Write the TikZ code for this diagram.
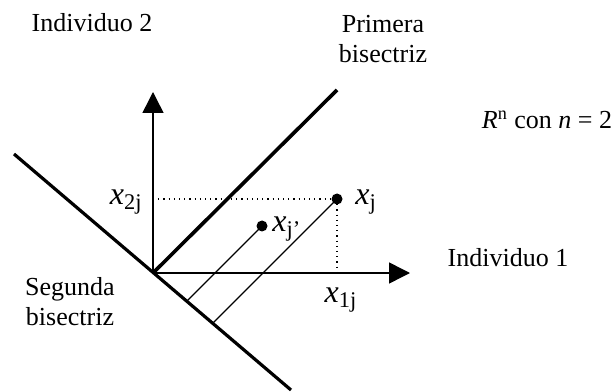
\documentclass[tikz,border=0pt]{standalone}
\usepackage{fontspec}
\setmainfont{Liberation Serif}
\usetikzlibrary{arrows.meta,calc}
\tikzset{
  lbl/.style={font=\fontsize{13}{15}\selectfont,inner sep=0pt,align=center},
  var/.style={font=\fontsize{16}{18}\selectfont,inner sep=0pt},
  axis/.style={line width=0.75pt,-{Triangle[length=10.5pt,width=10.5pt]}},
  bis/.style={line width=1.6pt},
  proj/.style={line width=0.6pt},
  guide/.style={line width=0.6pt,dotted},
  pt/.style={circle,fill=black,inner sep=0pt,minimum size=5.5pt},
}
\begin{document}
\begin{tikzpicture}[x=0.5pt,y=0.5pt]
  \useasboundingbox (0,0) rectangle (615,391);
  % axes
  \coordinate (o) at (153,118);
  \coordinate (ytip) at (153,299);
  \coordinate (xtip) at (410,118);
  \draw[axis] (o) -- (ytip);
  \draw[axis] (o) -- (xtip);
  % bisectors
  \coordinate (p1) at (337,301);
  \coordinate (s1) at (14,237);
  \coordinate (s2) at (291,1);
  \draw[bis,line width=1.8pt] (o) -- (p1);
  \draw[bis] (s1) -- (s2);
  % points and projections
  \node[pt] (xj) at (337,192) {};
  \node[pt] (xjp) at (262,165) {};
  \coordinate (fj) at (intersection cs: first line={(xj.center)--($(xj.center)+(-1,-1)$)}, second line={(s1)--(s2)});
  \coordinate (fjp) at (intersection cs: first line={(xjp.center)--($(xjp.center)+(-1,-1)$)}, second line={(s1)--(s2)});
  \draw[proj] (xj.center) -- (fj);
  \draw[proj] (xjp.center) -- (fjp);
  \draw[guide] (o |- xj.center) -- (xj.center);
  \draw[guide] (xj.center) -- (xj.center |- o);
  % labels
  \node[lbl] (ind2) at (92,368) {Individuo 2};
  \node[lbl] (prim) at (383,352) {Primera\\bisectriz};
  \node[lbl] (seg) at (70,89) {Segunda\\bisectriz};
  \node[lbl] (ind1) at (508,133) {Individuo 1};
  \node[lbl] (rn) at (547,271) {\textit{R}\textsuperscript{n} con \textit{n} = 2};
  \node[var,anchor=east] (lx2) at (143,189) {\textit{x}\textsubscript{2j}};
  \node[var,anchor=west] (lxj) at (355,189) {\textit{x}\textsubscript{j}};
  \node[var,anchor=west] (lxjp) at (272,162) {\textit{x}\textsubscript{j'}};
  \node[var] (lx1) at (341,91) {\textit{x}\textsubscript{1j}};
\end{tikzpicture}
\end{document}
